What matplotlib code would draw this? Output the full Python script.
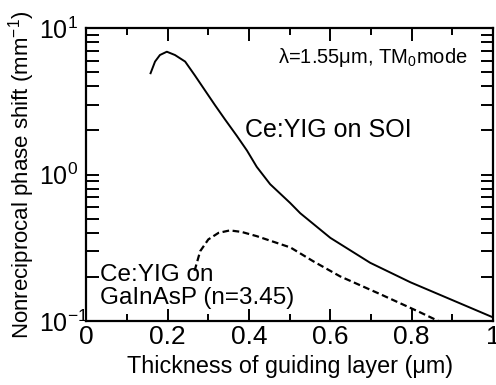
import matplotlib
matplotlib.use("Agg")
import matplotlib.pyplot as plt
from matplotlib.ticker import MultipleLocator, LogLocator, NullFormatter

plt.rcParams['font.family'] = ['Liberation Sans', 'DejaVu Sans']
plt.rcParams['mathtext.fontset'] = 'custom'
plt.rcParams['mathtext.rm'] = 'Liberation Sans'
plt.rcParams['mathtext.it'] = 'Liberation Sans'
plt.rcParams['axes.unicode_minus'] = False

# Ce:YIG on SOI (solid)
soi_t = [0.158, 0.169, 0.181, 0.198, 0.218, 0.243, 0.267, 0.292, 0.316, 0.341,
         0.370, 0.395, 0.419, 0.452, 0.501, 0.526, 0.600, 0.698, 0.797, 0.895, 1.000]
soi_phi = [4.92, 5.91, 6.55, 6.90, 6.55, 5.91, 4.75, 3.75, 2.99, 2.38,
           1.84, 1.46, 1.13, 0.86, 0.641, 0.545, 0.37, 0.25, 0.184, 0.141, 0.106]

# Ce:YIG on GaInAsP (dashed)
gip_t = [0.266, 0.270, 0.280, 0.300, 0.325, 0.353, 0.382, 0.419, 0.456, 0.502,
         0.558, 0.624, 0.722, 0.820, 0.866]
gip_phi = [0.22, 0.24, 0.30, 0.361, 0.40, 0.416, 0.406, 0.38, 0.351, 0.318,
           0.256, 0.202, 0.153, 0.115, 0.100]

fig = plt.figure(figsize=(4.96, 3.85), dpi=100)
ax = fig.add_axes([0.174, 0.166, 0.82, 0.761])

ax.plot(soi_t, soi_phi, color='black', lw=1.4)
ax.plot(gip_t, gip_phi, color='black', lw=1.6, ls=(0, (3, 1.6)))

ax.set_yscale('log')
ax.set_xlim(0, 1)
ax.set_ylim(0.1, 10)

ax.xaxis.set_minor_locator(MultipleLocator(0.1))
ax.set_xticks([0, 0.2, 0.4, 0.6, 0.8, 1.0])
ax.set_xticklabels(['0', '0.2', '0.4', '0.6', '0.8', '1'])
ax.yaxis.set_major_locator(LogLocator(base=10, numticks=5))
ax.yaxis.set_minor_locator(LogLocator(base=10, subs=range(2, 10), numticks=20))
ax.yaxis.set_minor_formatter(NullFormatter())

for s in ax.spines.values():
    s.set_linewidth(1.6)
ax.tick_params(which='both', direction='in', top=True, right=True, width=1.4)
ax.tick_params(axis='x', which='major', length=9, labelsize=19, pad=3)
ax.tick_params(axis='x', which='minor', length=5)
ax.tick_params(axis='y', which='both', length=9, labelsize=18, pad=34)
for lbl in ax.get_yticklabels():
    lbl.set_ha('left')

ax.set_xlabel('Thickness of guiding layer (μm)', fontsize=16.8, labelpad=4)
ax.set_ylabel('Nonreciprocal phase shift (mm$^{-1}$)', fontsize=16)
ax.yaxis.set_label_coords(-0.122, 0.5)

ax.text(0.390, 1.81, 'Ce:YIG on SOI', fontsize=18, va='baseline', ha='left')
ax.text(0.937, 5.78, 'λ=1.55μm, TM$_0$mode', fontsize=14.5, va='baseline', ha='right')
ax.text(0.033, 0.187, 'Ce:YIG on', fontsize=17.5, va='baseline', ha='left')
ax.text(0.033, 0.1306, 'GaInAsP (n=3.45)', fontsize=17.5, va='baseline', ha='left')

fig.savefig('out.png', dpi=100)
